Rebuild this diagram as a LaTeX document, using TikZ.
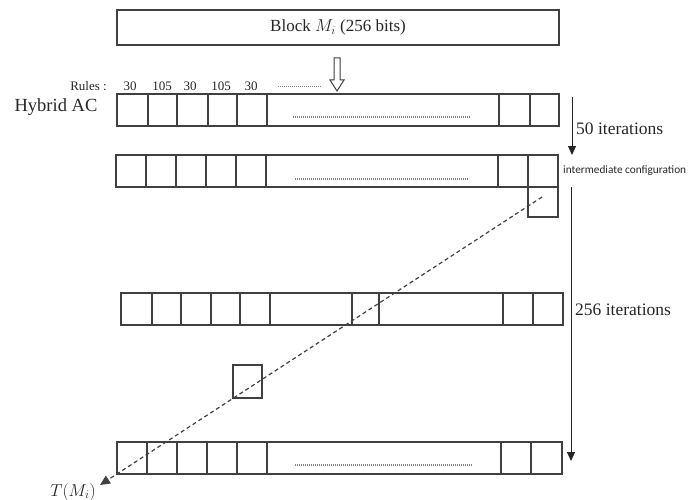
\documentclass[tikz,border=0pt]{standalone}
\usepackage{fontspec}
\setmainfont{Liberation Serif}
\newfontfamily\smallsans{Carlito}
\usetikzlibrary{arrows.meta}
\begin{document}
\begin{tikzpicture}[x=1pt,y=-1pt,
  frame/.style={draw=black!75, line width=1.2pt, inner sep=0pt, outer sep=0pt, anchor=north west},
  cell/.style={draw=black!75, line width=1.2pt},
  dotrow/.style={draw=black!50, line width=1.3pt, dash pattern=on 0.8pt off 1.2pt},
  txt/.style={inner sep=0pt, text=black!85},
  rulefont/.style={font=\fontsize{13}{15}\selectfont},
  bigfont/.style={font=\fontsize{17.5}{20}\selectfont},
  iter/.style={draw=black!85, line width=1pt, -{Triangle[length=9pt,width=8pt]}}
]
\useasboundingbox (0,0) rectangle (690,500);

% top block
\node[frame, minimum width=442pt, minimum height=35pt] (block) at (117,10) {};
\node[txt, font=\fontsize{17}{19}\selectfont] (blocktext) at (block.center) {Block $M_i$ (256 bits)};

% hollow arrow
\draw[draw=black!75, line width=1pt, fill=white] (334,58) -- (340,58) -- (340,80) -- (344,80) -- (337,91) -- (330,80) -- (334,80) -- cycle;
\coordinate (hollowtip) at (337,91);

% rules line
\node[txt, anchor=east, rulefont] (rules) at (107,86) {Rules :};
\node[txt, rulefont] (r30a) at (130,86) {30};
\node[txt, rulefont] (r105a) at (162,86) {105};
\node[txt, rulefont] (r30b) at (190,86) {30};
\node[txt, rulefont] (r105b) at (221,86) {105};
\node[txt, rulefont] (r30c) at (251,86) {30};
\draw[dotrow, line width=1pt] (278,87) -- (322,87);

% Hybrid AC label
\node[txt, font=\fontsize{18.5}{21}\selectfont] (hybrid) at (56,107) {Hybrid AC};

% row 1
\node[frame, minimum width=442pt, minimum height=32pt] (row1) at (117,94) {};
\foreach \x in {148,177,208,237,267,499,530} \draw[cell] (\x,94) -- (\x,126);
\draw[dotrow] (293,117) -- (470,117);

% 50 iterations
\coordinate (a50s) at (572,97);
\coordinate (a50e) at (572,155);
\draw[iter] (a50s) -- (a50e);
\node[txt, anchor=west, bigfont] (it50) at (576,129) {50 iterations};

% row 2
\node[frame, minimum width=442pt, minimum height=32pt] (row2) at (116,155) {};
\foreach \x in {146,176,206,236,266,498,528} \draw[cell] (\x,155) -- (\x,187);
\draw[dotrow] (295,179) -- (469,179);
\node[frame, minimum width=30pt, minimum height=30pt] (sq1) at (528,187) {};
\node[txt, anchor=west, font=\smallsans\fontsize{11.3}{13}\selectfont] (inter) at (563,171) {intermediate configuration};

% 256 iterations
\coordinate (a256s) at (571,187);
\coordinate (a256e) at (571,461);
\draw[iter] (a256s) -- (a256e);
\node[txt, anchor=west, bigfont] (it256) at (575,310) {256 iterations};

% row 3
\node[frame, minimum width=442pt, minimum height=32pt] (row3) at (121,293) {};
\foreach \x in {152,181,211,240,270,352,379,503,533} \draw[cell] (\x,293) -- (\x,325);

% middle small square
\node[frame, minimum width=29pt, minimum height=33pt] (sq2) at (233,365) {};

% row 4
\node[frame, minimum width=445pt, minimum height=32pt] (row4) at (117,442) {};
\foreach \x in {147,177,207,237,267,501,531} \draw[cell] (\x,442) -- (\x,474);
\draw[dotrow] (295,465) -- (472,465);

% dashed diagonal
\coordinate (dstart) at (542,197);
\node[txt, font=\fontsize{17}{19}\selectfont] (tm) at (73,492) {$T(M_i)$};
\coordinate (dend) at (100,485);
\draw[draw=black!75, line width=1.2pt, dash pattern=on 4pt off 3pt, -{Triangle[length=10pt,width=9pt]}] (dstart) -- (dend);
\end{tikzpicture}
\end{document}
